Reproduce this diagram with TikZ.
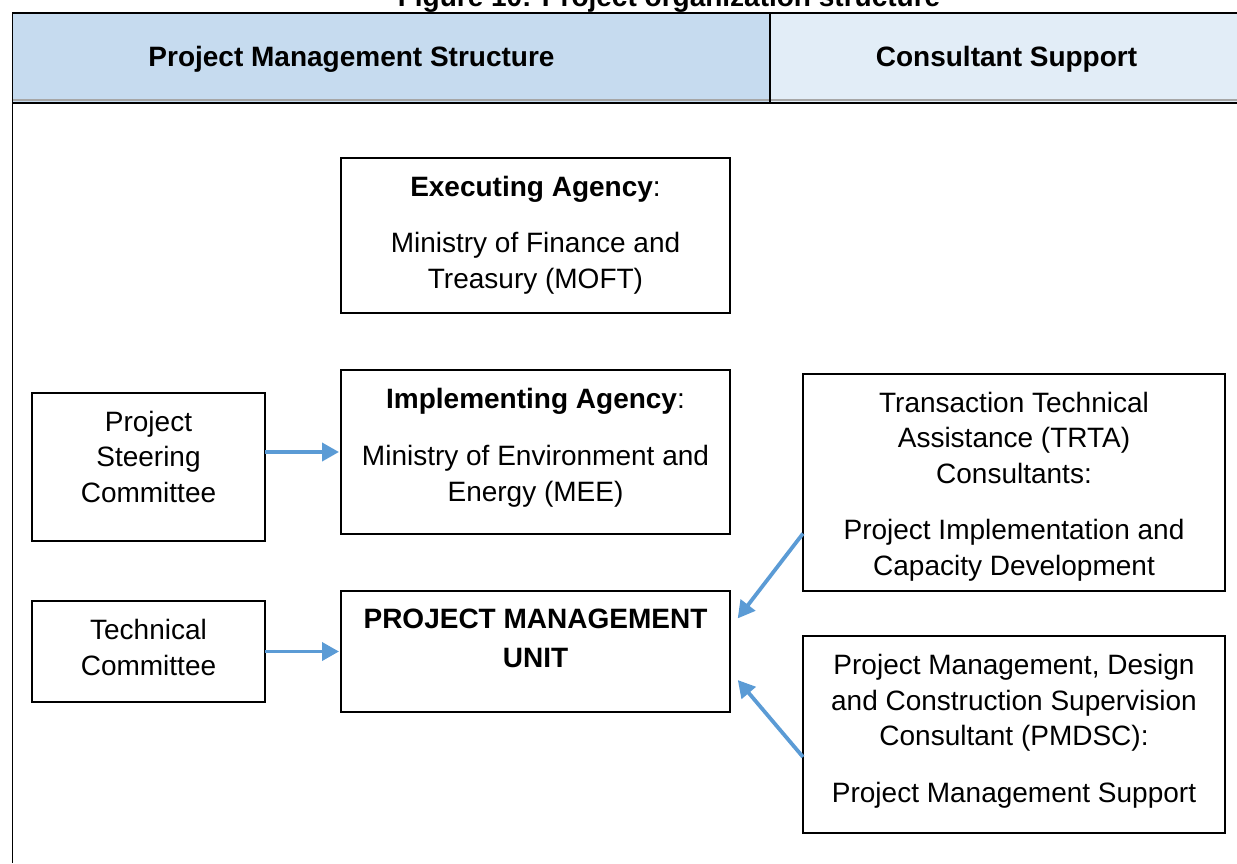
\documentclass[tikz,border=0pt]{standalone}
\usepackage{fontspec}
\setmainfont{Liberation Sans}
\usetikzlibrary{positioning,arrows.meta}
\definecolor{hdrblue}{HTML}{C6DBEF}
\definecolor{hdrpale}{HTML}{E2EDF7}
\definecolor{arrowblue}{HTML}{5B9BD5}
\begin{document}
\begin{tikzpicture}[x=1pt,y=-1pt]
    \tikzset{
      unit/.style = {draw, line width=1.6pt, inner sep=0pt,
      outer sep=0pt, minimum width=389pt},
      side/.style = {unit, minimum width=233pt},
      consult/.style = {unit, minimum width=422pt},
      txt/.style = {align=center, inner sep=0pt,
      font=\fontsize{28}{35.5}\selectfont},
      head/.style = {txt, anchor=base,
      font=\fontsize{28}{35.5}\selectfont\bfseries},
      flow/.style = {-{Triangle[length=17pt,width=18pt]},
      line width=3.8pt, arrowblue, shorten >=2pt} % blue connectors
    }
    \useasboundingbox (0,0) rectangle (1237,863);

    % table head
    \fill[hdrblue] (12,13) rectangle (770,102);
    \fill[hdrpale] (770,13) rectangle (1237,102);
    \draw[line width=2pt] (12,13) -- (1237,13);
    \draw[gray!70, line width=1.5pt] (12,100) -- (1237,100);
    \draw[line width=1.8pt] (12,103) -- (1237,103);
    \draw[line width=1.5pt] (770,13) -- (770,102);
    \draw[line width=1.5pt] (12.5,13) -- (12.5,863);

    \node[head] (title) at (669,6) {Figure 10: Project organization structure};
    \node[head] (pms) at (351.5,66) {Project Management Structure};
    \node[head] (cs) at (1006.5,66) {Consultant Support};

    \node[unit, minimum height=155pt] (exec) at (535.5,235.5) {};
    \node[unit, minimum height=164pt, below=57pt of exec] (impl) {};
    \node[unit, minimum height=121pt, below=57pt of impl] (pmu) {};
    \node[side, minimum height=148pt, left=76pt of impl, yshift=-15pt] (psc) {};
    \node[side, minimum height=101pt, left=76pt of pmu] (tc) {};
    \node[consult, minimum height=217pt, right=73pt of impl,
      yshift=-30.5pt] (trta) {};
    \node[consult, minimum height=197pt, below=45pt of trta] (pmdsc) {};

    \node[txt, below=18pt of exec.north] (exec-t)
      {\textbf{Executing Agency}:\\[21pt]
       Ministry of Finance and\\ Treasury (MOFT)};
    \node[txt, below=18pt of impl.north] (impl-t)
      {\textbf{Implementing Agency}:\\[22pt]
       Ministry of Environment and\\ Energy (MEE)};
    \node[txt, below=18pt of pmu.north] (pmu-t)
      {\textbf{PROJECT MANAGEMENT}\\[3pt] \textbf{UNIT}};
    \node[txt, below=18pt of psc.north] (psc-t)
      {Project\\ Steering\\ Committee};
    \node[txt, below=18pt of tc.north] (tc-t)
      {Technical\\ Committee};
    \node[txt, below=18pt of trta.north] (trta-t)
      {Transaction Technical\\ Assistance (TRTA)\\ Consultants:\\[21pt]
       Project Implementation and\\ Capacity Development};
    \node[txt, below=18pt of pmdsc.north] (pmdsc-t)
      {Project Management, Design\\ and Construction Supervision\\
       Consultant (PMDSC):\\[21pt] Project Management Support};

    \path[flow]
      (psc.east |- impl.west) edge (impl)
      (tc) edge (pmu)
      ([yshift=-51pt]trta.west) edge ([xshift=6.5pt,yshift=31.5pt]pmu.east)
      ([yshift=-22.5pt]pmdsc.west) edge ([xshift=6.5pt,yshift=-27pt]pmu.east)
    ;
\end{tikzpicture}
\end{document}
